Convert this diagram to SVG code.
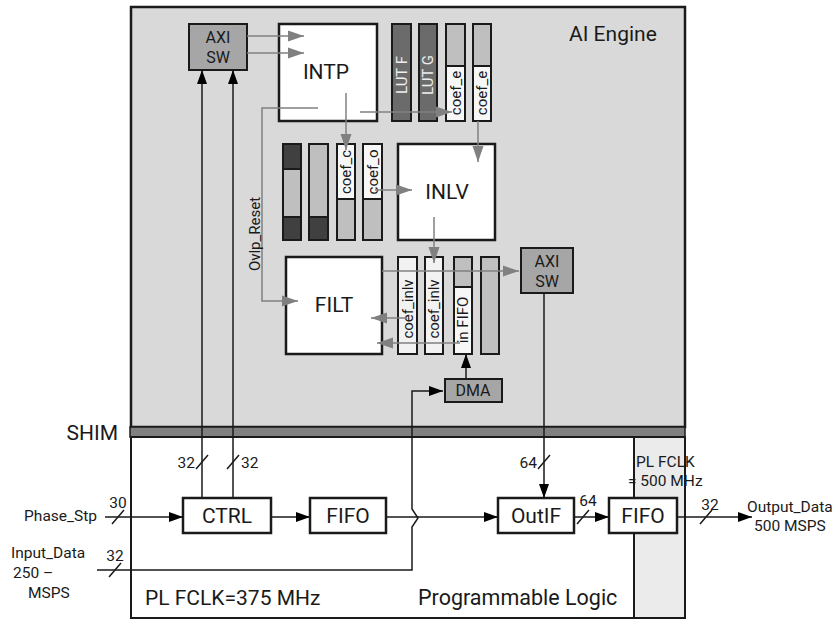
<svg xmlns="http://www.w3.org/2000/svg" width="836" height="620" viewBox="0 0 836 620">
<style>
text{font-family:Roboto,"Liberation Sans",sans-serif;fill:#1a1a1a}
.blk{fill:#fff;stroke:#1a1a1a;stroke-width:2.5}
.sw{fill:#a6a6a6;stroke:#1a1a1a;stroke-width:2}
.col{stroke:#1a1a1a;stroke-width:2}
.g{fill:none;stroke:#808080;stroke-width:1.5}
.k{fill:none;stroke:#1a1a1a;stroke-width:1.5}
.t21{font-size:21px}
.t20{font-size:20px}
.t16{font-size:16px}
.t15{font-size:15.5px}
.t14{font-size:15px}
</style>
<defs>
<marker id="ag" markerUnits="userSpaceOnUse" markerWidth="17" markerHeight="12" refX="16" refY="6" orient="auto"><path d="M0,0.5 L16,6 L0,11.5 z" fill="#808080"/></marker>
<marker id="ak" markerUnits="userSpaceOnUse" markerWidth="15" markerHeight="11" refX="14" refY="5.5" orient="auto"><path d="M0,0.5 L14,5.5 L0,10.5 z" fill="#000"/></marker>
</defs>
<rect width="836" height="620" fill="#fff"/>
<g id="ai_engine">
<rect x="131" y="7" width="554" height="420" fill="#d9d9d9" stroke="#1a1a1a" stroke-width="2.5"/>
<text x="569" y="41" class="t21">AI Engine</text>
</g>
<g id="shim">
<rect x="130" y="427" width="555" height="10" fill="#808080" stroke="#1a1a1a" stroke-width="1.5"/>
<text x="118" y="440" class="t21" text-anchor="end">SHIM</text>
</g>
<g id="pl">
<rect x="131" y="437" width="554" height="181" fill="#fff" stroke="#1a1a1a" stroke-width="2"/>
<rect x="634" y="437" width="51" height="181" fill="#ebebeb" stroke="#1a1a1a" stroke-width="2"/>
<text x="145" y="605" class="t21">PL FCLK=375 MHz</text>
<text x="418" y="605" class="t20" style="font-size:21.5px">Programmable Logic</text>
<text x="636" y="467" class="t15">PL FCLK</text>
<text x="628" y="486" class="t15">= 500 MHz</text>
</g>
<g id="axi_sw_top">
<rect x="189" y="24" width="58" height="46" class="sw"/>
<text x="218" y="43" class="t16" text-anchor="middle">AXI</text>
<text x="218" y="63" class="t16" text-anchor="middle">SW</text>
</g>
<g id="intp">
<rect x="279" y="24" width="98" height="97" class="blk"/>
<text x="326" y="79" class="t21" text-anchor="middle">INTP</text>
</g>
<g id="lut_f">
<rect x="392" y="24" width="19" height="97" fill="#6b6b6b" class="col"/>
<text transform="translate(407,75) rotate(-90)" class="t14" text-anchor="middle" style="fill:#eee">LUT F</text>
</g>
<g id="lut_g">
<rect x="419" y="24" width="18" height="97" fill="#6b6b6b" class="col"/>
<text transform="translate(433,75) rotate(-90)" class="t14" text-anchor="middle" style="fill:#eee">LUT G</text>
</g>
<g id="coef_e1">
<rect x="446" y="24" width="19" height="42" fill="#bfbfbf" class="col"/>
<rect x="446" y="66" width="19" height="55" fill="#f7f7f7" class="col"/>
<text transform="translate(461,93) rotate(-90)" class="t14" text-anchor="middle">coef_e</text>
</g>
<g id="coef_e2">
<rect x="473" y="24" width="18" height="42" fill="#bfbfbf" class="col"/>
<rect x="473" y="66" width="18" height="55" fill="#f7f7f7" class="col"/>
<text transform="translate(487,93) rotate(-90)" class="t14" text-anchor="middle">coef_e</text>
</g>
<g id="buf1">
<rect x="283" y="144" width="18" height="96" fill="#bfbfbf" class="col"/>
<rect x="283" y="144" width="18" height="25" fill="#404040" class="col"/>
<rect x="283" y="217" width="18" height="23" fill="#404040" class="col"/>
</g>
<g id="buf2">
<rect x="309" y="144" width="19" height="96" fill="#bfbfbf" class="col"/>
<rect x="309" y="217" width="19" height="23" fill="#404040" class="col"/>
</g>
<g id="coef_c">
<rect x="337" y="144" width="18" height="96" fill="#bfbfbf" class="col"/>
<rect x="337" y="144" width="18" height="55" fill="#f7f7f7" class="col"/>
<text transform="translate(351,172) rotate(-90)" class="t14" text-anchor="middle">coef_c</text>
</g>
<g id="coef_o">
<rect x="363" y="144" width="19" height="96" fill="#bfbfbf" class="col"/>
<rect x="363" y="144" width="19" height="55" fill="#f7f7f7" class="col"/>
<text transform="translate(378,172) rotate(-90)" class="t14" text-anchor="middle">coef_o</text>
</g>
<g id="inlv">
<rect x="398" y="144" width="97" height="96" class="blk"/>
<text x="447" y="199" class="t21" text-anchor="middle">INLV</text>
</g>
<g id="filt">
<rect x="286" y="257" width="96" height="97" class="blk"/>
<text x="334" y="312" class="t21" text-anchor="middle">FILT</text>
</g>
<g id="coef_inlv1">
<rect x="398" y="257" width="19" height="97" fill="#f2f2f2" class="col"/>
<text transform="translate(413,309) rotate(-90)" class="t14" text-anchor="middle">coef_inlv</text>
</g>
<g id="coef_inlv2">
<rect x="425" y="257" width="18" height="97" fill="#f2f2f2" class="col"/>
<text transform="translate(439,309) rotate(-90)" class="t14" text-anchor="middle">coef_inlv</text>
</g>
<g id="in_fifo">
<rect x="454" y="257" width="18" height="97" fill="#f7f7f7" class="col"/>
<rect x="454" y="257" width="18" height="30" fill="#bfbfbf" class="col"/>
<text transform="translate(468,320) rotate(-90)" class="t14" text-anchor="middle">in FIFO</text>
</g>
<g id="buf3">
<rect x="481" y="257" width="18" height="97" fill="#bfbfbf" class="col"/>
</g>
<g id="axi_sw2">
<rect x="521" y="248" width="52" height="45" class="sw"/>
<text x="547" y="267" class="t16" text-anchor="middle">AXI</text>
<text x="547" y="287" class="t16" text-anchor="middle">SW</text>
</g>
<g id="dma">
<rect x="445" y="379" width="57" height="23" class="sw"/>
<text x="473" y="396" class="t16" text-anchor="middle">DMA</text>
</g>
<g id="ctrl">
<rect x="183" y="498" width="88" height="35" class="blk"/>
<text x="227" y="523" class="t21" text-anchor="middle">CTRL</text>
</g>
<g id="fifo1">
<rect x="310" y="498" width="76" height="35" class="blk"/>
<text x="348" y="523" class="t21" text-anchor="middle">FIFO</text>
</g>
<g id="outif">
<rect x="498" y="498" width="76" height="35" class="blk"/>
<text x="536" y="523" class="t21" text-anchor="middle">OutIF</text>
</g>
<g id="fifo2">
<rect x="609" y="498" width="68" height="35" class="blk"/>
<text x="643" y="523" class="t21" text-anchor="middle">FIFO</text>
</g>
<g id="connectors">
<path class="g" d="M247,36 H304" marker-end="url(#ag)"/>
<path class="g" d="M247,53 H304" marker-end="url(#ag)"/>
<path class="g" d="M360,112 H452" marker-end="url(#ag)"/>
<path class="g" d="M346,93 V150" marker-end="url(#ag)"/>
<path class="g" d="M318,108 H262 V301 H298" marker-end="url(#ag)"/>
<path class="g" d="M478,121 V162" marker-end="url(#ag)"/>
<path class="g" d="M375,190 H412" marker-end="url(#ag)"/>
<path class="g" d="M434,217 V263" marker-end="url(#ag)"/>
<path class="g" d="M382,271 H519" marker-end="url(#ag)"/>
<path class="g" d="M407,318 H371" marker-end="url(#ag)"/>
<path class="g" d="M460,343 H377" marker-end="url(#ag)"/>
<text transform="translate(260,234) rotate(-90)" class="t14" text-anchor="middle">Ovlp_Reset</text>
<path class="k" d="M202,498 V70" marker-end="url(#ak)"/>
<path class="k" d="M233,498 V70" marker-end="url(#ak)"/>
<path class="k" d="M466,379 V354" marker-end="url(#ak)"/>
<path class="k" d="M97,570 H412 V527 L418,518 L412,509 V391 H443" marker-end="url(#ak)"/>
<path class="k" d="M544,293 V498" marker-end="url(#ak)"/>
<path class="k" d="M105,517 H183" marker-end="url(#ak)"/>
<path class="k" d="M271,517 H310" marker-end="url(#ak)"/>
<path class="k" d="M386,517 H498" marker-end="url(#ak)"/>
<path class="k" d="M574,517 H609" marker-end="url(#ak)"/>
<path class="k" d="M677,517 H752" marker-end="url(#ak)"/>
<path class="k" d="M196,469 L208,455 M227,469 L239,455 M112,524 L124,510 M109,577 L121,563 M538,469 L550,455 M577,524 L589,510 M700,524 L712,510"/>
<text x="195" y="468" class="t15" text-anchor="end">32</text>
<text x="241" y="468" class="t15">32</text>
<text x="118" y="508" class="t15" text-anchor="middle">30</text>
<text x="115" y="561" class="t15" text-anchor="middle">32</text>
<text x="537" y="468" class="t15" text-anchor="end">64</text>
<text x="588" y="506" class="t15" text-anchor="middle">64</text>
<text x="710" y="510" class="t15" text-anchor="middle">32</text>
<text x="97" y="521" class="t15" text-anchor="end">Phase_Stp</text>
<text x="11" y="558" class="t15">Input_Data</text>
<text x="13" y="578" class="t15">250 –</text>
<text x="28" y="598" class="t15">MSPS</text>
<text x="747" y="512" class="t15">Output_Data</text>
<text x="754" y="531" class="t15">500 MSPS</text>
</g>
</svg>
